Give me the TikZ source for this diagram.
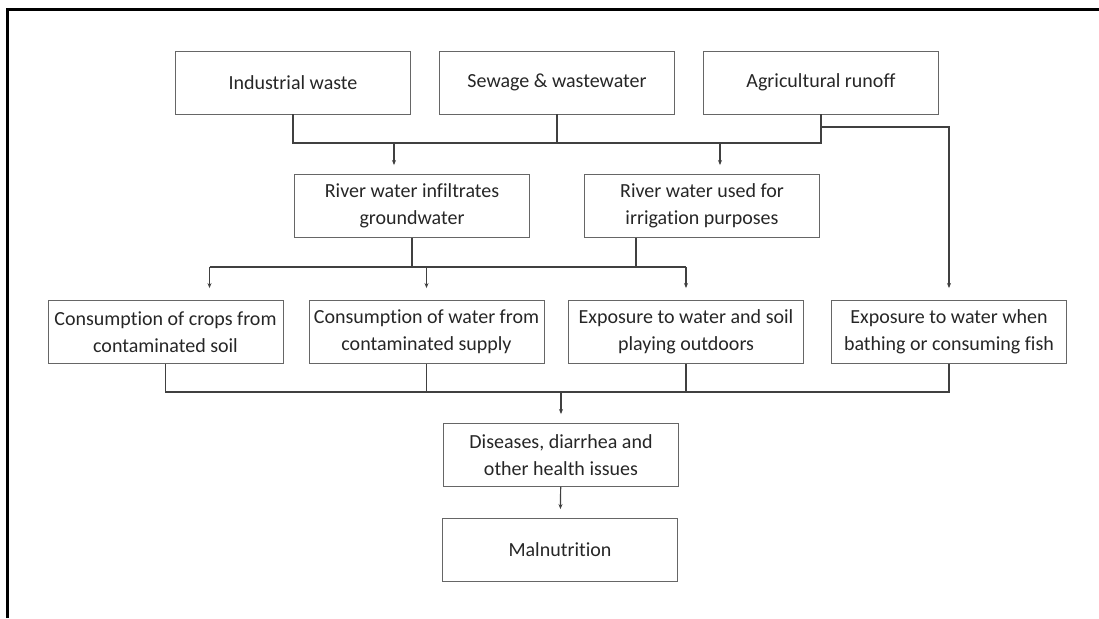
\documentclass[tikz,border=0pt]{standalone}
\usepackage{fontspec}
\setmainfont{Carlito}[Ligatures=NoCommon]
\usepackage{tikz}
\usetikzlibrary{arrows.meta}
\tikzset{
  box/.style={draw=black!60,line width=0.9pt,minimum width=235pt,minimum height=63pt,align=center,text=black!85,font=\fontsize{20}{27}\selectfont},
  wire/.style={draw=black!75,line width=1.2pt},
  arr/.style={wire,-{Stealth[length=5pt,width=4pt]},shorten >=9pt}
}
\begin{document}
\begin{tikzpicture}[x=1pt,y=1pt]
    \useasboundingbox (0,0) rectangle (1099,618);
    \draw[line width=3pt] (7,0) -- (7,608) -- (1099,608);
    \node[box] (ind) at (293,535.5) {Industrial waste};
    \node[box] (sew) at (557,535.5) {Sewage \& wastewater};
    \node[box] (agri) at (821,535.5) {Agricultural runoff};
    \node[box] (inf) at (412,412) {River water infiltrates\\groundwater};
    \node[box] (irr) at (702,412) {River water used for\\irrigation purposes};
    \node[box] (c1) at (165.5,286) {Consumption of crops from\\contaminated soil};
    \node[box] (c2) at (426.5,286) {Consumption of water from\\contaminated supply};
    \node[box] (c3) at (686,286) {Exposure to water and soil\\playing outdoors};
    \node[box] (c4) at (949,286) {Exposure to water when\\bathing or consuming fish};
    \node[box] (dis) at (561,163) {Diseases, diarrhea and\\other health issues};
    \node[box] (mal) at (560,68) {Malnutrition};
    \coordinate (b1) at (0,475);
    \coordinate (b2) at (0,351);
    \coordinate (b3) at (0,226);
    \draw[wire] (ind.south) |- (agri.south |- b1) -- (agri.south);
    \draw[wire] (sew.south) -- (sew.south |- b1);
    \draw[arr] ([xshift=-18pt]inf.north |- b1) -- ([xshift=-18pt]inf.north);
    \draw[arr] ([xshift=18pt]irr.north |- b1) -- ([xshift=18pt]irr.north);
    \draw[arr,shorten >=12pt] (agri.south |- 0,491) -| (c4.north);
    \draw[wire] (inf.south) -- (inf.south |- b2);
    \draw[wire] ([xshift=-66pt]irr.south) -- ([xshift=-66pt]irr.south |- b2);
    \draw[wire] ([xshift=44pt]c1.north |- b2) -- (c3.north |- b2);
    \draw[arr,shorten >=12pt] ([xshift=44pt]c1.north |- b2) -- ([xshift=44pt]c1.north);
    \draw[arr,shorten >=12pt] (c2.north |- b2) -- (c2.north);
    \draw[arr,shorten >=12pt] (c3.north |- b2) -- (c3.north);
    \draw[wire] (c1.south) |- (c4.south |- b3) -- (c4.south);
    \draw[wire] (c2.south) -- (c2.south |- b3);
    \draw[wire] (c3.south) -- (c3.south |- b3);
    \draw[arr] (dis.north |- b3) -- (dis.north);
    \draw[arr] (dis) -- (mal);
\end{tikzpicture}
\end{document}
